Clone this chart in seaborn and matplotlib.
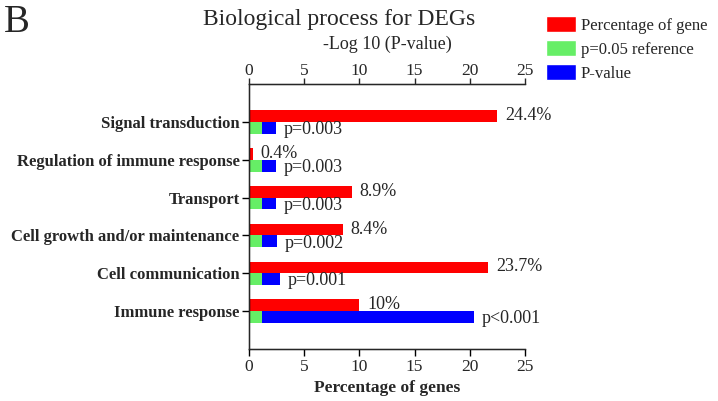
import matplotlib
matplotlib.use("Agg")
import matplotlib.pyplot as plt
import seaborn as sns
import pandas as pd
from matplotlib.patches import Patch

categories = ["Signal transduction", "Regulation of immune response", "Transport",
              "Cell growth and/or maintenance", "Cell communication", "Immune response"]
pct_values = [22.5, 0.35, 9.3, 8.5, 21.7, 10.0]
pct_labels = ["24.4%", "0.4%", "8.9%", "8.4%", "23.7%", "10%"]
logp_values = [2.45, 2.4, 2.45, 2.5, 2.8, 20.4]
p_labels = ["p=0.003", "p=0.003", "p=0.003", "p=0.002", "p=0.001", "p<0.001"]
ref_value = 1.2
ticks = [0, 5, 10, 15, 20, 25]

RED = "#ff0000"
GREEN = "#66ee66"
BLUE = "#0000ff"

sns.set_style("ticks")
plt.rcParams['font.family'] = ['Liberation Serif', 'DejaVu Serif']

fig = plt.figure(figsize=(7.18, 4.01), dpi=100)
ax = fig.add_axes([0.347, 0.13, 0.384, 0.66])

hue_order = ["Percentage of gene", "P-value"]
df = pd.DataFrame({
    "category": categories * 2,
    "series": ["Percentage of gene"] * len(categories) + ["P-value"] * len(categories),
    "value": pct_values + logp_values,
})
df_ref = pd.DataFrame({
    "category": categories,
    "series": ["P-value"] * len(categories),
    "value": [ref_value] * len(categories),
})

sns.barplot(data=df, y="category", x="value", hue="series", hue_order=hue_order,
            order=categories, palette={"Percentage of gene": RED, "P-value": BLUE},
            dodge=True, width=0.62, orient="h", ax=ax, legend=False,
            saturation=1, errorbar=None, gap=0, linewidth=0, edgecolor="none")
sns.barplot(data=df_ref, y="category", x="value", hue="series", hue_order=hue_order,
            order=categories, palette={"Percentage of gene": RED, "P-value": GREEN},
            dodge=True, width=0.62, orient="h", ax=ax, legend=False,
            saturation=1, errorbar=None, gap=0, linewidth=0, edgecolor="none")

ax.set_xlim(0, 25)
ax.set_ylim(6.0, -1.0)
ax.set_xticks(ticks)
ax.set_xticklabels([str(t) for t in ticks], fontsize=12.5)
ax.set_xlabel("Percentage of genes", fontsize=12.5, fontweight="bold", labelpad=4)
ax.set_ylabel("")
ax.set_yticks(range(len(categories)))
ax.set_yticklabels(categories, fontsize=12, fontweight="bold")
ax.tick_params(axis="both", direction="out", length=5, width=1, color="black", pad=2)
ax.spines["right"].set_visible(False)
for s in ["left", "bottom", "top"]:
    ax.spines[s].set_color("black")
    ax.spines[s].set_linewidth(1)

ax2 = ax.twiny()
ax2.set_xlim(0, 25)
ax2.set_xticks(ticks)
ax2.set_xticklabels([str(t) for t in ticks], fontsize=12.5)
ax2.set_xlabel("-Log 10 (P-value)", fontsize=13, labelpad=10)
ax2.tick_params(axis="x", direction="out", length=4, width=1, pad=0)
ax2.spines["right"].set_visible(False)

for i in range(len(categories)):
    ax.text(pct_values[i] + 0.7, i - 0.17, pct_labels[i], va="center", ha="left", fontsize=13)
    ax.text(logp_values[i] + 0.7, i + 0.2, p_labels[i], va="center", ha="left", fontsize=13)

fig.text(0.006, 0.945, "B", fontsize=28, ha="left", va="center")
fig.text(0.472, 0.952, "Biological process for DEGs", fontsize=17, ha="center", va="center")

handles = [Patch(facecolor=RED, label="Percentage of gene"),
           Patch(facecolor=GREEN, label="p=0.05 reference"),
           Patch(facecolor=BLUE, label="P-value")]
fig.legend(handles=handles, loc="upper left", bbox_to_anchor=(0.761, 0.96), frameon=False,
           fontsize=12, handlelength=1.75, handleheight=1.1, handletextpad=0.3,
           labelspacing=0.38, borderpad=0, borderaxespad=0)

fig.savefig("out.png", dpi=100)
